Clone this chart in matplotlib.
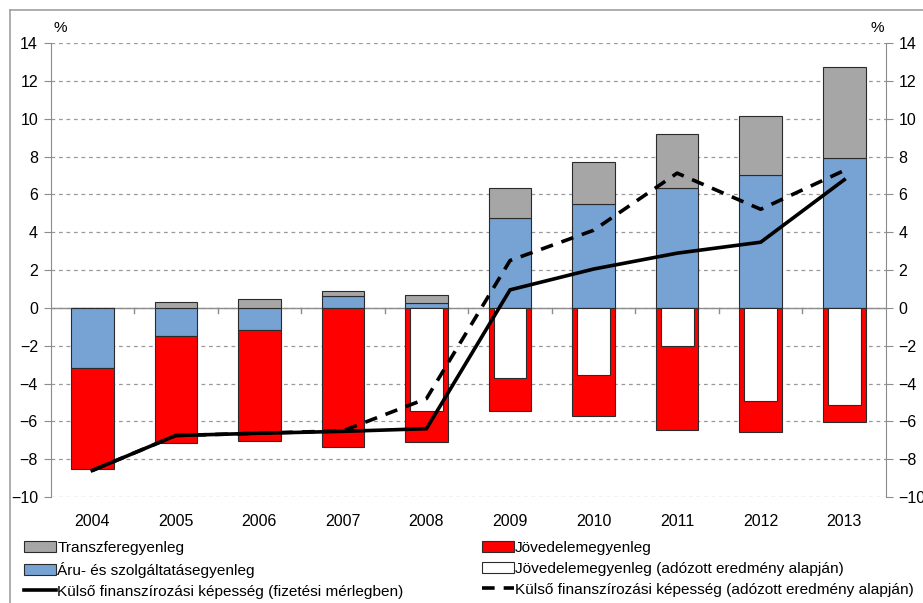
import numpy as np
import matplotlib
matplotlib.use("Agg")
from matplotlib import pyplot as plt
from matplotlib.patches import Patch
from matplotlib.lines import Line2D

plt.rcParams['font.family'] = ['Liberation Sans', 'DejaVu Sans']

years = ['2004', '2005', '2006', '2007', '2008', '2009', '2010', '2011', '2012', '2013']
aru = [-3.2, -1.5, -1.15, 0.6, 0.28, 4.74, 5.48, 6.33, 7.01, 7.91]
transzfer = [0.0, 0.33, 0.46, 0.28, 0.41, 1.59, 2.24, 2.88, 3.14, 4.83]
jovedelem = [-5.3, -5.65, -5.9, -7.38, -7.1, -5.43, -5.71, -6.47, -6.59, -6.01]
jov_adozott = [np.nan, np.nan, np.nan, np.nan, -5.44, -3.72, -3.54, -2.04, -4.92, -5.14]
kfk_fm = [-8.6, -6.75, -6.63, -6.53, -6.39, 0.95, 2.05, 2.89, 3.47, 6.77]
kfk_adoz = [-8.6, -6.75, -6.63, -6.5, -4.8, 2.5, 4.1, 7.12, 5.21, 7.26]

c_gray = '#A6A6A6'
c_blue = '#77A2D4'
c_red = '#FF0000'
edge = '#2b2b2b'

fig = plt.figure(figsize=(9.23, 6.03), dpi=100)
ax = fig.add_axes([50.5 / 923, 1 - 497 / 603, (886 - 50.5) / 923, (497 - 43) / 603])

x = np.arange(len(years))
aru = np.array(aru)
transzfer = np.array(transzfer)
jovedelem = np.array(jovedelem)
pos_base = np.where(aru > 0, aru, 0)
neg_base = np.where(aru < 0, aru, 0)
w = 0.51

ax.bar(x, aru, w, color=c_blue, edgecolor=edge, linewidth=0.8, zorder=2)
ax.bar(x, transzfer, w, bottom=pos_base, color=c_gray, edgecolor=edge, linewidth=0.8, zorder=2)
ax.bar(x, jovedelem, w, bottom=neg_base, color=c_red, edgecolor=edge, linewidth=0.8, zorder=2)
ax.bar(x, jov_adozott, w * 0.77, color='white', edgecolor=edge, linewidth=0.8, zorder=3)

ax.plot(x, kfk_fm, color='black', lw=2.6, zorder=5, solid_joinstyle='miter')
ax.plot(x, kfk_adoz, color='black', lw=2.6, ls=(0, (3.5, 2.5)), zorder=5)

ax.set_xlim(-0.5, 9.5)
ax.set_ylim(-10, 14)
ax.set_yticks(range(-10, 15, 2))
ax.yaxis.grid(True, ls=(0, (3, 3)), color='#999999', lw=0.9, zorder=0)
ax.set_axisbelow(True)
ax.axhline(0, color='#8c8c8c', lw=1.0, zorder=1)

for s in ['top', 'bottom']:
    ax.spines[s].set_visible(False)
for s in ['left', 'right']:
    ax.spines[s].set_color('#8c8c8c')

ax.tick_params(axis='y', which='both', left=True, right=True, labelleft=True, labelright=True,
               direction='out', length=5, color='#8c8c8c', labelsize=11.5, pad=4)
ax.set_xticks(x)
ax.set_xticklabels(years)
ax.tick_params(axis='x', length=0, labelsize=11.5, pad=12)
for xb in np.arange(0.5, 9.5, 1):
    ax.plot([xb, xb], [0, -0.28], color='#8c8c8c', lw=1.0, zorder=1, clip_on=False)

fig.text(60 / 923, 1 - 28 / 603, '%', fontsize=11, ha='center', va='center')
fig.text(877 / 923, 1 - 28 / 603, '%', fontsize=11, ha='center', va='center')

# frame round the chart
fig.add_artist(Line2D([10 / 923, 10 / 923], [0, 1 - 10 / 603], color='#a0a0a0', lw=1.2,
                      transform=fig.transFigure))
fig.add_artist(Line2D([10 / 923, 1], [1 - 10 / 603, 1 - 10 / 603], color='#a0a0a0', lw=1.2,
                      transform=fig.transFigure))

handles1 = [Patch(facecolor=c_gray, edgecolor=edge, lw=0.8),
            Patch(facecolor=c_blue, edgecolor=edge, lw=0.8),
            Line2D([], [], color='black', lw=2.6)]
labels1 = ['Transzferegyenleg', 'Áru- és szolgáltatásegyenleg',
           'Külső finanszírozási képesség (fizetési mérlegben)']
handles2 = [Patch(facecolor=c_red, edgecolor=edge, lw=0.8),
            Patch(facecolor='white', edgecolor=edge, lw=0.8),
            Line2D([], [], color='black', lw=2.6, ls=(0, (3.5, 2.5)))]
labels2 = ['Jövedelemegyenleg', 'Jövedelemegyenleg (adózott eredmény alapján)',
           'Külső finanszírozási képesség (adózott eredmény alapján)']

kw = dict(loc='upper left', frameon=False, fontsize=11.1, handlelength=2.05, handleheight=0.75,
          handletextpad=0.1, labelspacing=0.45, borderaxespad=0, borderpad=0)
fig.legend(handles1, labels1, bbox_to_anchor=(24 / 923, 1 - 541 / 603), **kw)
fig.legend(handles2, labels2, bbox_to_anchor=(482 / 923, 1 - 541 / 603), **kw)

fig.savefig('out.png', dpi=100)
